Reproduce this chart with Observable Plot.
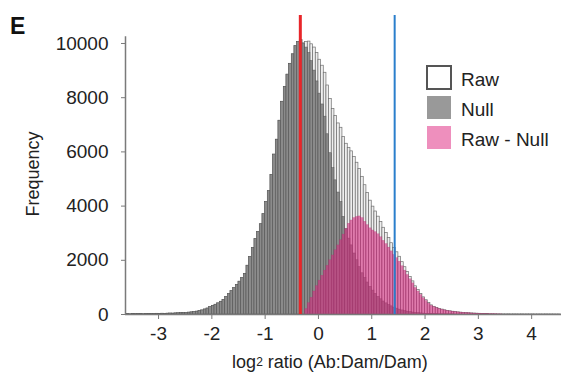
<!DOCTYPE html>
<html>
<head>
<meta charset="utf-8">
<script src="https://cdn.jsdelivr.net/npm/d3@7"></script>
<script src="https://cdn.jsdelivr.net/npm/@observablehq/plot@0.6"></script>
<style>
  html, body { margin: 0; padding: 0; background: #fff; }
  #chart { width: 561px; height: 377px; }
</style>
</head>
<body>
<div id="chart"></div>
<script>
// ---- data ----
const binWidth = 0.05;
const rawStart = -3.60;
const nullStart = -3.60;
const diffStart = -0.25;

const nullCounts = [
  12,8,15,10,18,14,9,20,16,22,18,25,
  20,28,24,30,35,32,40,45,50,55,
  60,68,78,90,105,125,150,185,220,270,
  320,360,410,470,540,640,750,860,970,1090,
  1210,1340,1500,1800,2120,2450,2780,3050,3330,3700,
  4150,4550,5150,5900,6450,7150,7850,8400,8850,9250,
  9600,9900,10050,10120,10000,9850,9650,9350,9000,8600,
  8150,7750,7300,6650,5950,5400,4950,4500,4150,3600,
  3150,2800,2550,2250,2000,1750,1520,1350,1180,1020,
  880,760,650,560,480,410,350,300,255,215,
  180,150,125,105,88,72,60,50,40,33,
  27,22,17,13,10,8,6,5,4,3,2
];

const diffCounts = [
  200,420,620,850,1050,1250,1430,1620,1800,2000,
  2180,2370,2550,2740,2950,3150,3350,3470,3560,3600,
  3620,3560,3420,3300,3180,3100,3040,2960,2850,2720,
  2600,2470,2330,2200,2080,1950,1780,1620,1460,1300,
  1150,980,850,720,600,500,400,320,270,230,
  200,175,150,130,115,100,88,78,68,60,
  52,46,40,35,30,26,22,18,15,12,
  10,8,6,5
];

const rawCounts = [
  12,8,15,10,18,14,9,20,16,22,18,25,
  20,28,24,30,35,32,40,45,50,55,
  60,68,78,90,105,125,150,185,220,270,
  320,360,410,470,540,640,750,860,970,1090,
  1210,1340,1500,1800,2120,2450,2780,3050,3330,3700,
  4150,4550,5150,5900,6450,7150,7850,8400,8850,9250,
  9600,9900,10050,10120,10000,
  10050,10070,9970,9850,9650,
  9400,9180,8920,8450,7950,7580,7320,7050,6890,6550,
  6300,6150,6020,5810,5600,5370,5080,4770,4480,4200,
  3980,3800,3610,3410,3200,3010,2820,2630,2455,2295,
  2130,1930,1745,1565,1388,1222,1040,900,760,633,
  527,422,337,283,240,208,181,155,134,118,
  102,
  88,78,68,60,52,46,40,35,30,26,22,18,15,12,10,8,6,5,
  6,5,7,4,6,5,4,6,3,5,4,5,3,4,4,3,5,3,4,3,2,3
];

const xTicks = [-3, -2, -1, 0, 1, 2, 3, 4];
const yTicks = [0, 2000, 4000, 6000, 8000, 10000];
const thresholds = [-0.34, 1.43]; // red, blue vertical lines
const legendLabels = ["Raw", "Null", "Raw - Null"];

// ---- build bins ----
const toBins = (counts, start) => counts.map((v, i) => ({
  x1: +(start + i * binWidth).toFixed(4),
  x2: +(start + (i + 1) * binWidth).toFixed(4),
  y: v
}));
const rawBins = toBins(rawCounts, rawStart);
const nullBins = toBins(nullCounts, nullStart);
const diffBins = toBins(diffCounts, diffStart);

const FONT = "'Liberation Sans', Arial, Helvetica, sans-serif";
const xMin = -3.62, xMax = 4.56;
const yMax = 11033;

const plot = Plot.plot({
  width: 561,
  height: 377,
  marginLeft: 125,
  marginRight: 0,
  marginTop: 15,
  marginBottom: 63,
  style: { fontSize: "19px", fontFamily: FONT, color: "#222", background: "#fff", overflow: "visible" },
  x: { domain: [xMin, xMax] },
  y: { domain: [0, yMax] },
  marks: [
    Plot.rectY(rawBins, { x1: "x1", x2: "x2", y: "y", fill: "#efefef", stroke: "#6e6e6e", strokeWidth: 0.7, inset: 0 }),
    Plot.rectY(nullBins, { x1: "x1", x2: "x2", y: "y", fill: "#858585", fillOpacity: 0.95, stroke: "#555", strokeWidth: 0.5, inset: 0 }),
    Plot.rectY(diffBins, { x1: "x1", x2: "x2", y: "y", fill: "#d42b7e", fillOpacity: 0.6, stroke: "#b0306e", strokeOpacity: 0.45, strokeWidth: 0.4, inset: 0 }),
    Plot.ruleY([0], { stroke: "#7a7a7a", strokeWidth: 1.5 }),
    Plot.ruleX([xMin], { y1: 0, y2: 10250, stroke: "#7a7a7a", strokeWidth: 1.5 }),
    Plot.ruleX([thresholds[0]], { y1: 0, y2: yMax, stroke: "#e8262a", strokeWidth: 3 }),
    Plot.ruleX([thresholds[1]], { y1: 0, y2: yMax, stroke: "#2a7fcc", strokeWidth: 2 }),
    Plot.axisX({ ticks: xTicks, tickSize: 5, tickPadding: 7, tickFormat: d => String(d), stroke: "#7a7a7a", label: null }),
    Plot.axisY({ ticks: yTicks, tickSize: 4, tickPadding: 13, tickFormat: d => String(d), stroke: "#7a7a7a", label: null })
  ]
});

document.getElementById("chart").appendChild(plot);

// ---- annotations ----
const svg = d3.select(plot);
const ann = svg.append("g").attr("font-family", FONT).attr("fill", "#222");

ann.append("text").attr("x", 10).attr("y", 34).attr("text-anchor", "start")
  .attr("font-size", 23).attr("font-weight", "bold").attr("fill", "#111").text("E");

ann.append("text")
  .attr("transform", "translate(39,174) rotate(-90)")
  .attr("text-anchor", "middle").attr("font-size", 18).text("Frequency");

const xl = ann.append("text").attr("x", 330).attr("y", 368).attr("text-anchor", "middle").attr("font-size", 18);
xl.append("tspan").text("log");
xl.append("tspan").attr("font-size", 12).attr("dy", -2).text("2");
xl.append("tspan").attr("dy", 2).text(" ratio (Ab:Dam/Dam)");

// legend
const legendStyles = [
  { fill: "#ffffff", stroke: "#555", sw: 2 },
  { fill: "#999999", stroke: "none", sw: 0 },
  { fill: "#ee8fbd", stroke: "none", sw: 0 }
];
legendLabels.forEach((lab, i) => {
  const top = 66 + i * 30;
  const s = legendStyles[i];
  ann.append("rect").attr("x", 427).attr("y", top).attr("width", 24).attr("height", 23)
    .attr("fill", s.fill).attr("stroke", s.stroke).attr("stroke-width", s.sw);
  ann.append("text").attr("x", 461).attr("y", top + 20).attr("text-anchor", "start")
    .attr("font-size", 19).text(lab);
});
</script>
</body>
</html>
